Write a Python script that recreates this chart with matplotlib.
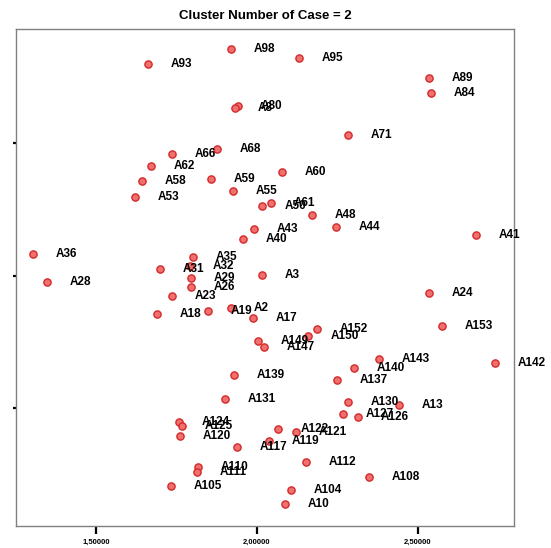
"""Cluster scatter: case labels for cluster number 2."""

import matplotlib
matplotlib.use("Agg")
import matplotlib.pyplot as plt  # noqa: E402

plt.rcParams["font.family"] = ["Liberation Sans", "DejaVu Sans"]

# case labels and their (x, y) positions
labels = ["A98", "A95", "A93", "A89", "A84", "A80", "A8", "A71", "A68", "A66",
          "A62", "A58", "A53", "A59", "A60", "A55", "A50", "A61", "A48", "A44",
          "A43", "A40", "A41", "A36", "A28", "A35", "A31", "A32", "A29", "A26",
          "A23", "A18", "A3", "A19", "A2", "A17", "A152", "A150", "A149", "A147",
          "A24", "A153", "A142", "A143", "A140", "A137", "A130", "A13", "A127", "A126",
          "A139", "A131", "A124", "A125", "A120", "A122", "A121", "A119", "A117", "A112",
          "A110", "A111", "A105", "A108", "A104", "A10"]
xs = [1.919, 2.131, 1.661, 2.535, 2.541, 1.941, 1.932, 2.283, 1.876, 1.736,
      1.670, 1.642, 1.620, 1.857, 2.078, 1.925, 2.016, 2.044, 2.171, 2.246,
      1.991, 1.956, 2.681, 1.303, 1.347, 1.801, 1.698, 1.792, 1.795, 1.795,
      1.736, 1.689, 2.016, 1.848, 1.919, 1.988, 2.187, 2.159, 2.003, 2.022,
      2.535, 2.576, 2.741, 2.380, 2.302, 2.249, 2.283, 2.442, 2.268, 2.314,
      1.928, 1.900, 1.757, 1.767, 1.760, 2.065, 2.121, 2.037, 1.938, 2.152,
      1.816, 1.813, 1.732, 2.348, 2.106, 2.087]
ys = [1.713, 1.645, 1.600, 1.494, 1.381, 1.283, 1.268, 1.064, 0.958, 0.921,
      0.830, 0.717, 0.596, 0.732, 0.785, 0.642, 0.528, 0.551, 0.460, 0.370,
      0.355, 0.279, 0.309, 0.166, -0.045, 0.143, 0.053, 0.075, -0.015, -0.083,
      -0.151, -0.287, 0.008, -0.264, -0.242, -0.317, -0.400, -0.453, -0.491, -0.536,
      -0.128, -0.377, -0.657, -0.626, -0.694, -0.785, -0.951, -0.974, -1.042, -1.064,
      -0.747, -0.928, -1.102, -1.132, -1.208, -1.155, -1.177, -1.245, -1.291, -1.404,
      -1.442, -1.479, -1.585, -1.517, -1.615, -1.721]

x_ticks = [1.5, 2.0, 2.5]
x_tick_labels = ["1,50000", "2,00000", "2,50000"]
y_ticks = [-1.0, 0.0, 1.0]

fig = plt.figure(figsize=(5.51, 5.48), dpi=100, facecolor="white")
ax = fig.add_axes([0.0287, 0.0401, 0.904, 0.907])

ax.plot(xs, ys, "o", ms=5.2, mfc="#f07070", mec="#d42a2a", mew=1.0, ls="none")
for lab, x, y in zip(labels, xs, ys):
    ax.annotate(lab, (x, y), xytext=(16.5, 0), textcoords="offset points",
                ha="left", va="center", fontsize=8.5, fontweight="bold", color="black")

ax.set_xlim(1.25, 2.80)
ax.set_ylim(-1.887, 1.864)
ax.set_xticks(x_ticks)
ax.set_xticklabels(x_tick_labels, fontsize=5.5, fontweight="bold")
ax.set_yticks(y_ticks)
ax.set_yticklabels(["", "", ""])
ax.tick_params(axis="x", direction="out", length=6, width=1.6, pad=3)
ax.tick_params(axis="y", direction="out", length=2, width=1.6)
for sp in ax.spines.values():
    sp.set_color("#808080")
    sp.set_linewidth(1.0)

ax.set_title("Cluster Number of Case = 2", fontsize=9.5, fontweight="bold", pad=7)

fig.savefig("out.png", dpi=100)
